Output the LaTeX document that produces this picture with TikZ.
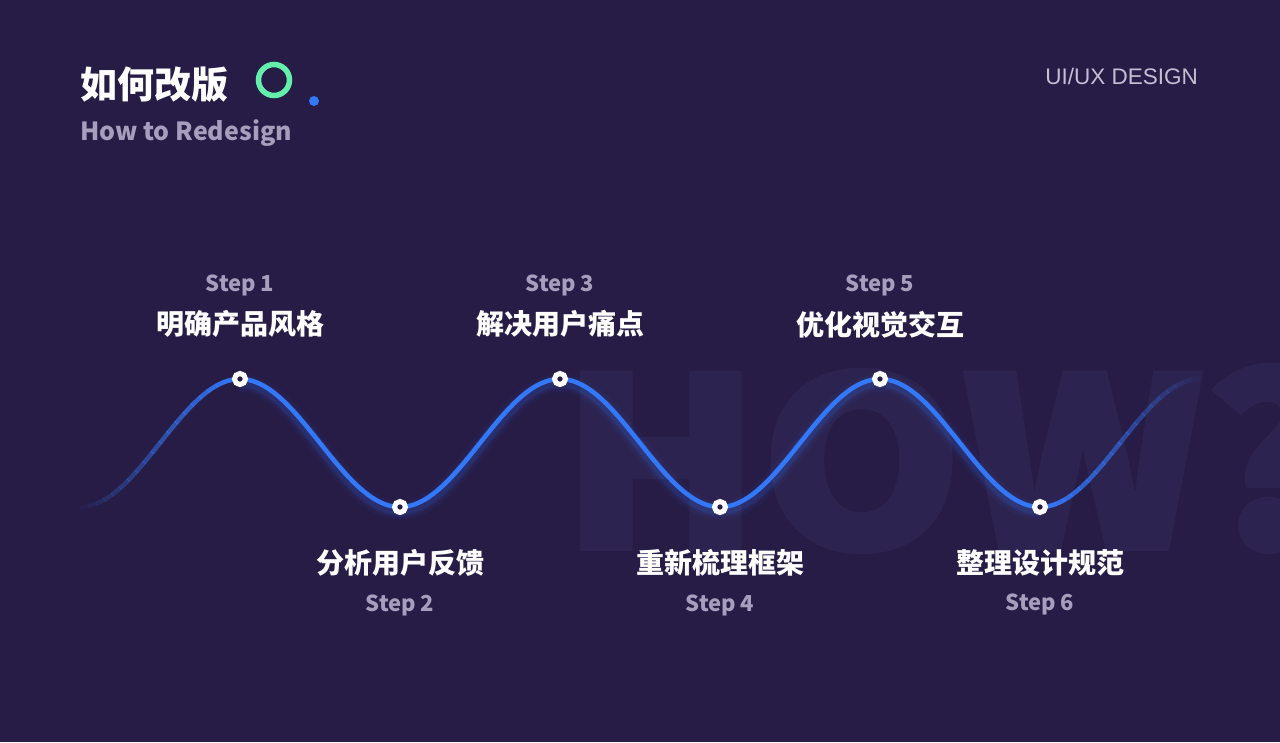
\documentclass[tikz,border=0pt]{standalone}
\usepackage{fontspec}
\setmainfont{Noto Sans CJK SC}
\newfontfamily\arialfont{Liberation Sans}
\newfontfamily\howfont[BoldFeatures={FakeBold=2.5}]{Noto Sans CJK SC}
\usetikzlibrary{positioning}

\definecolor{bgpurple}{RGB}{39,28,69}
\definecolor{howpurple}{RGB}{45,35,80}
\definecolor{waveblue}{RGB}{52,120,250}
\definecolor{ringgreen}{RGB}{100,240,170}
\definecolor{greytext}{RGB}{165,158,188}
\definecolor{lighttext}{RGB}{196,192,212}

\tikzset{
  marker/.style={circle, draw=white, fill=bgpurple, line width=5pt,
    minimum size=11pt, inner sep=0pt},
  cnlabel/.style={font=\fontsize{28}{30}\selectfont\bfseries, text=white, inner sep=0pt},
  steplabel/.style={font=\fontsize{22}{24}\selectfont\bfseries, text=greytext, inner sep=0pt},
  wave/.style={draw=waveblue, line width=4.5pt},
}

\begin{document}
\begin{tikzpicture}[x=1pt, y=-1pt]

    % Background
    \clip (0,0) rectangle (1280,742);
    \fill[bgpurple] (0,0) rectangle (1280,742);
    \node[anchor=base west, inner sep=0pt, text=howpurple, transform shape, xscale=1.1,
          font=\howfont\fontsize{234}{234}\selectfont\bfseries] (how) at (561,548) {HOW?};

    % Header
    \node[anchor=base west, inner sep=0pt, text=white,
          font=\fontsize{37}{40}\selectfont\bfseries] (title) at (80,98) {如何改版};
    \node[anchor=base west, inner sep=0pt, text=greytext,
          font=\fontsize{25}{28}\selectfont\bfseries] (subtitle) at (80,140) {How to Redesign};
    \node[circle, draw=ringgreen, line width=5.5pt, minimum size=31pt, inner sep=0pt] (ring) at (274,80) {};
    \node[circle, fill=waveblue, minimum size=10pt, inner sep=0pt] (dot) at (314,101) {};
    \node[anchor=base east, inner sep=0pt, text=lighttext,
          font=\arialfont\fontsize{22.5}{25}\selectfont] (tag) at (1198,84) {UI/UX DESIGN};

    % Wave with glow
    \foreach \w/\o in {18/0.05, 12/0.08, 8/0.12}
      \draw[waveblue, line width=\w pt, opacity=\o, yshift=-4pt]
        plot[domain=240:1040, samples=200] (\x, {443-64*cos((\x-240)*1.125)});
    \draw[wave] plot[domain=240:1040, samples=200] (\x, {443-64*cos((\x-240)*1.125)});

    % Fading ends
    \foreach \i in {0,...,19} {
      \pgfmathsetmacro{\op}{(\i+1)/20}
      \draw[wave, opacity=\op]
        plot[domain=80+8*\i:88.6+8*\i, samples=6] (\x, {443-64*cos((\x-240)*1.125)});
      \draw[wave, opacity=\op]
        plot[domain=1191.4-8*\i:1200-8*\i, samples=6] (\x, {443-64*cos((\x-240)*1.125)});
    }

    % Define nodes
    \node[marker] (p1) at (240,379) {};
    \node[marker] (p2) at (400,507) {};
    \node[marker] (p3) at (560,379) {};
    \node[marker] (p4) at (720,507) {};
    \node[marker] (p5) at (880,379) {};
    \node[marker] (p6) at (1040,507) {};

    % Labels
    \node[cnlabel, above=33pt of p1] (c1) {明确产品风格};
    \node[steplabel, above=14pt of c1] (s1) {Step 1};
    \node[cnlabel, below=34pt of p2] (c2) {分析用户反馈};
    \node[steplabel, below=18pt of c2] (s2) {Step 2};
    \node[cnlabel, above=33pt of p3] (c3) {解决用户痛点};
    \node[steplabel, above=14pt of c3] (s3) {Step 3};
    \node[cnlabel, below=34pt of p4] (c4) {重新梳理框架};
    \node[steplabel, below=18pt of c4] (s4) {Step 4};
    \node[cnlabel, above=33pt of p5] (c5) {优化视觉交互};
    \node[steplabel, above=14pt of c5] (s5) {Step 5};
    \node[cnlabel, below=34pt of p6] (c6) {整理设计规范};
    \node[steplabel, below=18pt of c6] (s6) {Step 6};

\end{tikzpicture}
\end{document}
